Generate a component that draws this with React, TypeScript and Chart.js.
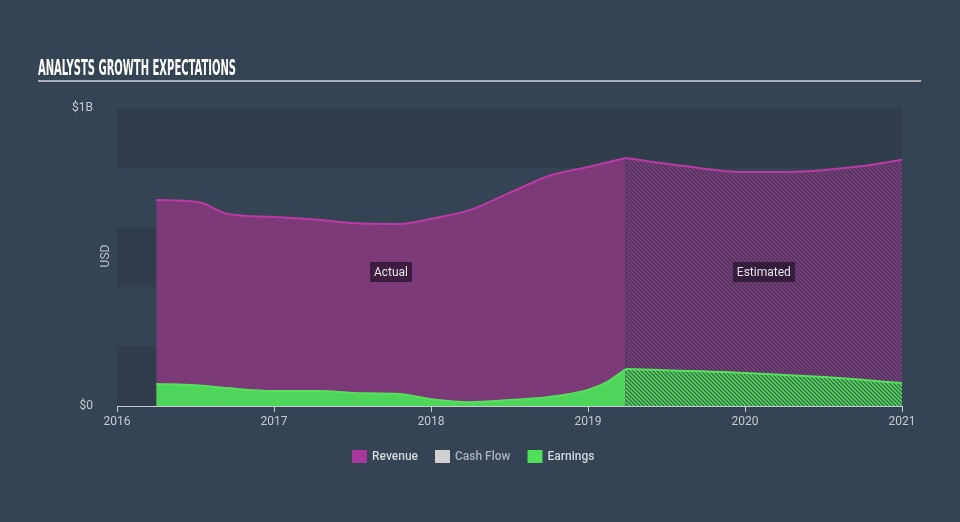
import React, { useEffect, useRef } from "react";
import { Chart, registerables } from "chart.js";

Chart.register(...registerables);

// ---- data (values in USD) ----
const revenueActualYears = [2016.25, 2016.45, 2016.55, 2016.7, 2017.0, 2017.3, 2017.5, 2017.8, 2018.0, 2018.25, 2018.5, 2018.75, 2019.0, 2019.24];
const revenueActualValues = [691e6, 688e6, 680e6, 645e6, 634e6, 624e6, 614e6, 611e6, 628e6, 658e6, 715e6, 772e6, 802e6, 832e6];
const revenueEstYears = [2019.24, 2019.6, 2020.0, 2020.4, 2020.75, 2021.0];
const revenueEstValues = [832e6, 806e6, 785e6, 788e6, 805e6, 826e6];

const earningsActualYears = [2016.25, 2016.5, 2016.7, 2017.0, 2017.3, 2017.5, 2017.8, 2018.0, 2018.25, 2018.5, 2018.75, 2019.0, 2019.12, 2019.24];
const earningsActualValues = [74e6, 70e6, 60e6, 50e6, 50e6, 44e6, 40e6, 23e6, 13e6, 20e6, 30e6, 54e6, 80e6, 124e6];
const earningsEstYears = [2019.24, 2020.0, 2020.5, 2021.0];
const earningsEstValues = [124e6, 111e6, 97e6, 77e6];

const xTickYears = [2016, 2017, 2018, 2019, 2020, 2021];
const yTickLabels: Record<number, string> = { 0: "$0", 1000000000: "$1B" };
const legendItems = [
  { label: "Revenue", color: "#a8389c", text: "#d2d6da" },
  { label: "Cash Flow", color: "#d0d0d0", text: "#aab2ba" },
  { label: "Earnings", color: "#4fe05a", text: "#d2d6da" },
];
const actualSplit = 2019.24;
const title = "ANALYSTS GROWTH EXPECTATIONS";

const BG = "#344453";
const BAND = "#303d4b";

function toPoints(xs: number[], ys: number[]) {
  return xs.map((x, i) => ({ x, y: ys[i] }));
}

function makeHatch(bg: string, stripe: string) {
  const c = document.createElement("canvas");
  c.width = 4;
  c.height = 4;
  const g = c.getContext("2d")!;
  g.fillStyle = bg;
  g.fillRect(0, 0, 4, 4);
  g.strokeStyle = stripe;
  g.lineWidth = 1.6;
  g.beginPath();
  g.moveTo(-1, -1);
  g.lineTo(5, 5);
  g.moveTo(-1, 3);
  g.lineTo(1, 5);
  g.moveTo(3, -1);
  g.lineTo(5, 1);
  g.stroke();
  return g.createPattern(c, "repeat")!;
}

export default function App() {
  const ref = useRef<HTMLCanvasElement | null>(null);

  useEffect(() => {
    if (!ref.current) return;
    const revHatch = makeHatch("#403a57", "#7e3b7b");
    const earnHatch = makeHatch("#3b5e4a", "#4fd65a");

    const bgPlugin = {
      id: "bgBands",
      beforeDraw(chart: any) {
        const { ctx, chartArea, scales } = chart;
        ctx.save();
        ctx.fillStyle = BG;
        ctx.fillRect(0, 0, chart.width, chart.height);
        const y = scales.y;
        ctx.fillStyle = BAND;
        for (const [a, b] of [[0, 2e8], [4e8, 6e8], [8e8, 1e9]]) {
          const y1 = y.getPixelForValue(b);
          const y2 = y.getPixelForValue(a);
          ctx.fillRect(chartArea.left, y1, chartArea.right - chartArea.left, y2 - y1);
        }
        ctx.restore();
      },
    };

    const overlayPlugin = {
      id: "overlay",
      afterDatasetsDraw(chart: any) {
        const { ctx, scales } = chart;
        const x = scales.x;
        const y = scales.y;
        const labels = [
          { text: "Actual", x: (revenueActualYears[0] + actualSplit) / 2 },
          { text: "Estimated", x: (actualSplit + 2021) / 2 },
        ];
        ctx.save();
        ctx.font = "12px Roboto, sans-serif";
        ctx.textBaseline = "middle";
        ctx.textAlign = "center";
        for (const l of labels) {
          const px = x.getPixelForValue(l.x);
          const py = y.getPixelForValue(4.5e8);
          const w = ctx.measureText(l.text).width + 8;
          ctx.fillStyle = "rgba(25,12,30,0.62)";
          ctx.fillRect(Math.round(px - w / 2), Math.round(py - 10), Math.round(w), 20);
          ctx.fillStyle = "#e4e4e8";
          ctx.fillText(l.text, px, py + 1);
        }
        ctx.restore();
      },
      afterDraw(chart: any) {
        const { ctx, chartArea } = chart;
        ctx.save();
        // title
        ctx.fillStyle = "#ffffff";
        ctx.font = "bold 21px 'Liberation Sans Narrow', 'DejaVu Sans Condensed', sans-serif";
        ctx.textBaseline = "alphabetic";
        ctx.textAlign = "left";
        ctx.fillText(title, 38, 75, 198);
        ctx.fillStyle = "#a9b0b7";
        ctx.fillRect(38, 80, 883, 2);
        // USD axis title
        ctx.translate(chartArea.left - 11, (chartArea.top + chartArea.bottom) / 2 - 1);
        ctx.rotate(-Math.PI / 2);
        ctx.fillStyle = "#b9c0c7";
        ctx.font = "12px Roboto, sans-serif";
        ctx.textAlign = "center";
        ctx.textBaseline = "middle";
        ctx.fillText("USD", 0, 0);
        ctx.setTransform(1, 0, 0, 1, 0, 0);
        // legend
        ctx.font = "500 12px Roboto, sans-serif";
        ctx.textAlign = "left";
        ctx.textBaseline = "middle";
        let lx = 352;
        const ly = 456;
        for (const it of legendItems) {
          ctx.fillStyle = it.color;
          ctx.fillRect(lx, ly - 6, 15, 13);
          lx += 20;
          ctx.fillStyle = it.text;
          ctx.fillText(it.label, lx, ly + 1);
          lx += ctx.measureText(it.label).width + 17;
        }
        ctx.restore();
      },
    };

    const chart = new Chart(ref.current, {
      type: "line",
      data: {
        datasets: [
          {
            label: "Earnings",
            data: toPoints(earningsActualYears, earningsActualValues),
            borderColor: "#56e15c",
            backgroundColor: "#4fd65a",
            borderWidth: 2,
            fill: "origin",
            pointRadius: 0,
            cubicInterpolationMode: "monotone",
          },
          {
            label: "Earnings (est.)",
            data: toPoints(earningsEstYears, earningsEstValues),
            borderColor: "#56e15c",
            backgroundColor: earnHatch,
            borderWidth: 2,
            fill: "origin",
            pointRadius: 0,
            cubicInterpolationMode: "monotone",
          },
          {
            label: "Revenue",
            data: toPoints(revenueActualYears, revenueActualValues),
            borderColor: "#bc3aa8",
            backgroundColor: "#7c3a78",
            borderWidth: 2,
            fill: "origin",
            pointRadius: 0,
            cubicInterpolationMode: "monotone",
          },
          {
            label: "Revenue (est.)",
            data: toPoints(revenueEstYears, revenueEstValues),
            borderColor: "#bc3aa8",
            backgroundColor: revHatch,
            borderWidth: 2,
            fill: "origin",
            pointRadius: 0,
            cubicInterpolationMode: "monotone",
          },
        ],
      },
      options: {
        animation: false,
        responsive: false,
        layout: { padding: { top: 108, right: 58, left: 0, bottom: 0 } },
        plugins: { legend: { display: false }, tooltip: { enabled: false }, title: { display: false } },
        scales: {
          x: {
            type: "linear",
            min: xTickYears[0],
            max: xTickYears[xTickYears.length - 1],
            afterFit: (s: any) => {
              s.height = 116;
            },
            afterBuildTicks: (s: any) => {
              s.ticks = xTickYears.map((v) => ({ value: v }));
            },
            ticks: {
              callback: (v: any) => String(v),
              color: "#c5cbd1",
              font: { family: "Roboto, sans-serif", size: 12 },
              padding: 3,
              maxRotation: 0,
            },
            grid: { display: true, drawOnChartArea: false, drawTicks: true, tickLength: 6, color: "#c4cad0" },
            border: { display: true, color: "#c4cad0", width: 1 },
          },
          y: {
            min: 0,
            max: 1e9,
            afterFit: (s: any) => {
              s.width = 117;
            },
            ticks: {
              stepSize: 2e8,
              callback: (v: any) => yTickLabels[v as number] ?? "",
              color: "#c5cbd1",
              font: { family: "Roboto, sans-serif", size: 12 },
              padding: 16,
            },
            grid: { display: false },
            border: { display: false },
          },
        },
      } as any,
      plugins: [bgPlugin, overlayPlugin],
    });
    return () => chart.destroy();
  }, []);

  return (
    <div style={{ position: "fixed", left: 0, top: 0, width: 960, height: 522, background: BG }}>
      <canvas ref={ref} width={960} height={522} style={{ display: "block" }} />
    </div>
  );
}
